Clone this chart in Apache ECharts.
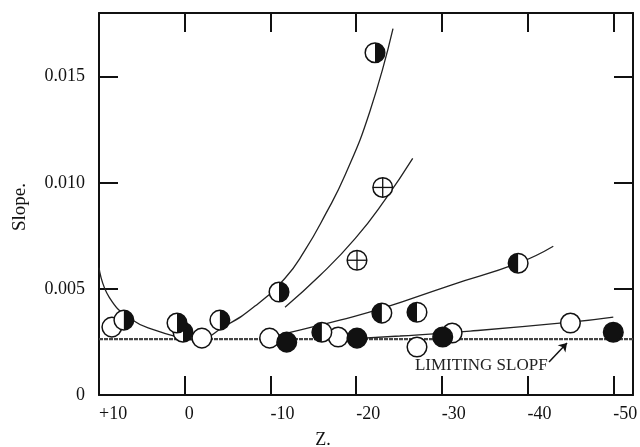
<!DOCTYPE html>
<html>
	<head>
		<title>Slope vs Z</title>
		<meta charset="utf-8"/>
		<style type="text/css">
			*{margin: 0;padding: 0;}
			html,body{height: 100%;background-color: #fff;}
			.chart{width: 640px;height: 447px;}
		</style>
		<script type="text/javascript" src="https://cdn.jsdelivr.net/npm/echarts@6/dist/echarts.min.js"></script>
	</head>
	<body>
		<div class="chart js-chart"></div>
		<script type="text/javascript">
			// 刻度
			var xTicks=[0,-10,-20,-30,-40,-50];
			var xLabels=[10,0,-10,-20,-30,-40,-50];
			var yTicks=[0.005,0.010,0.015];
			var yLabels=[0,0.005,0.010,0.015];

			// 点 [Z, slope]
			var openPts=[[8.5,0.0032],[-2.0,0.00268],[-9.9,0.00268],[-17.9,0.00273],[-27.1,0.00226],[-31.2,0.00292],[-45.0,0.00339]];
			var rightHalfPts=[[7.1,0.00353],[0.2,0.00296],[0.9,0.00339],[-4.1,0.00353],[-11.0,0.00485],[-22.2,0.01613]];
			var leftHalfPts=[[-16.0,0.00296],[-23.0,0.00386],[-27.1,0.0039],[-38.9,0.00621]];
			var filledPts=[[-11.9,0.00249],[-20.1,0.00268],[-30.1,0.00273],[-50.0,0.00296]];
			var crossPts=[[-20.1,0.00635],[-23.1,0.00978]];

			// 曲线
			var curveA=[[10,0.0060],[8.8,0.0046],[6.1,0.00353],[3.3,0.00303],[0.6,0.00272],[-1.2,0.00259],[-4.7,0.00325],[-8.2,0.00419],[-11.7,0.0055],[-14.0,0.0068],[-16.4,0.0085],[-18.7,0.01035],[-21.6,0.01336],[-24.3,0.01726]];
			var curveB=[[-11.7,0.00414],[-15.8,0.00564],[-19.9,0.00738],[-23.4,0.00922],[-26.6,0.01115]];
			var curveC=[[-9.4,0.00268],[-13.4,0.00306],[-18.1,0.00353],[-23.1,0.00409],[-31.0,0.00517],[-38.9,0.00621],[-43.0,0.00701]];
			var curveD=[[-16.9,0.00259],[-25.1,0.00278],[-33.3,0.00301],[-45.0,0.00343],[-50.0,0.00367]];
			var limitLine=[[10,0.00263],[-52.3,0.00263]];
			var limitText="LIMITING SLOPF";
			var arrowFrom=[-42.5,0.00155],arrowTo=[-44.6,0.00245];

			var serif='"Liberation Serif", "DejaVu Serif", serif';
			var ink='#111';

			function marker(kind){
				return function(params,api){
					var c=api.coord([api.value(0),api.value(1)]);
					var r=9.8;
					var kids=[{
						type:'circle',
						shape:{cx:c[0],cy:c[1],r:r},
						style:{fill:kind=='filled'?ink:'#fff',stroke:ink,lineWidth:1.5}
					}];
					if(kind=='right'){
						kids.push({type:'sector',shape:{cx:c[0],cy:c[1],r:r,startAngle:-Math.PI/2,endAngle:Math.PI/2},style:{fill:ink}});
					}else if(kind=='left'){
						kids.push({type:'sector',shape:{cx:c[0],cy:c[1],r:r,startAngle:Math.PI/2,endAngle:Math.PI*1.5},style:{fill:ink}});
					}else if(kind=='cross'){
						kids.push({type:'line',shape:{x1:c[0]-r,y1:c[1],x2:c[0]+r,y2:c[1]},style:{stroke:ink,lineWidth:1.3}});
						kids.push({type:'line',shape:{x1:c[0],y1:c[1]-r,x2:c[0],y2:c[1]+r},style:{stroke:ink,lineWidth:1.3}});
					}
					return {type:'group',children:kids};
				};
			}
			function pts(data,kind){
				return {type:'custom',data:data,renderItem:marker(kind),encode:{x:0,y:1},z:5,silent:true};
			}
			function curve(data){
				return {type:'line',data:data,smooth:0.5,showSymbol:false,silent:true,lineStyle:{color:'#222',width:1.3},z:3};
			}

			function xAxis(pos){
				return {
					type:'value',position:pos,inverse:true,min:-52.3,max:10,
					splitLine:{show:false},
					axisLine:{show:true,onZero:false,lineStyle:{color:ink,width:2}},
					axisTick:{show:true,inside:true,length:19,customValues:xTicks,lineStyle:{color:ink,width:2}},
					axisLabel:{
						show:pos=='bottom',customValues:xLabels,align:'left',margin:10,
						fontFamily:serif,fontSize:18,color:ink,
						formatter:function(v){return v>0?'+'+v:String(v);}
					}
				};
			}
			function yAxis(pos){
				return {
					type:'value',position:pos,min:0,max:0.018,
					splitLine:{show:false},
					axisLine:{show:true,onZero:false,lineStyle:{color:ink,width:2}},
					axisTick:{show:true,inside:true,length:19,customValues:yTicks,lineStyle:{color:ink,width:2}},
					axisLabel:{
						show:pos=='left',customValues:yLabels,margin:14,
						fontFamily:serif,fontSize:18,color:ink,
						formatter:function(v){return v==0?'0':v.toFixed(3);}
					}
				};
			}

			var chart=echarts.init(document.querySelector('.js-chart'));
			chart.setOption({
				animation:false,
				backgroundColor:'#fff',
				grid:{left:99,right:7,top:13,bottom:52,outerBoundsMode:'none',containLabel:false},
				xAxis:[xAxis('bottom'),xAxis('top')],
				yAxis:[yAxis('left'),yAxis('right')],
				graphic:[
					{type:'text',x:20,y:207,rotation:Math.PI/2,style:{text:'Slope.',font:'19px '+serif,fill:ink,textAlign:'center',textVerticalAlign:'middle'}},
					{type:'text',x:323,y:440,style:{text:'Z.',font:'18px '+serif,fill:ink,textAlign:'center',textVerticalAlign:'middle'}}
				],
				series:[
					{
						type:'line',data:limitLine,showSymbol:false,silent:true,z:2,
						lineStyle:{color:'#444',width:2.2,type:[4,1]},
						markLine:{
							silent:true,symbol:['none','arrow'],symbolSize:8,
							lineStyle:{color:ink,width:1.5,type:'solid',curveness:-0.3},
							label:{show:false},
							data:[[{coord:arrowFrom},{coord:arrowTo}]]
						},
						markPoint:{
							silent:true,
							data:[{coord:[-34.6,0.00141],symbol:'circle',symbolSize:0,
								label:{show:true,position:'inside',formatter:limitText,fontFamily:serif,fontSize:17,color:'#222'}}]
						}
					},
					curve(curveA),curve(curveB),curve(curveC),curve(curveD),
					pts(openPts,'open'),
					pts(rightHalfPts,'right'),
					pts(leftHalfPts,'left'),
					pts(filledPts,'filled'),
					pts(crossPts,'cross')
				]
			});
		</script>
	</body>
</html>
